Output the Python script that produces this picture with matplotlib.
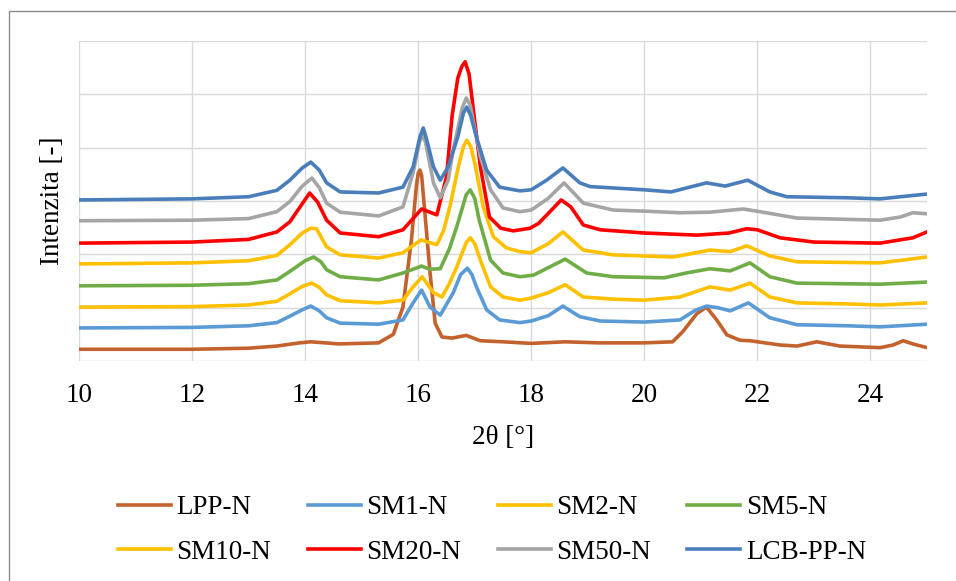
import matplotlib
matplotlib.use("Agg")
from matplotlib import pyplot as plt
from matplotlib.patches import Rectangle

# 2theta [deg] / intensity (offset curves, arbitrary units, grid step = 1)
lpp_x = [10, 12, 13, 13.5, 13.9, 14.1, 14.6, 15.3, 15.56, 15.73, 15.88, 15.97, 16.0, 16.03, 16.06, 16.1,
         16.21, 16.3, 16.42, 16.6, 16.85, 17.1, 17.5, 18.0, 18.6, 19.2, 20.0, 20.5, 20.68, 20.93, 21.1,
         21.28, 21.46, 21.69, 21.87, 22.4, 22.7, 23.05, 23.46, 24.17, 24.4, 24.58, 24.75, 25.0]
lpp_y = [0.22, 0.22, 0.24, 0.28, 0.34, 0.36, 0.32, 0.34, 0.50, 1.01, 2.27, 3.30, 3.52, 3.58, 3.48, 3.0,
         1.65, 0.71, 0.45, 0.43, 0.48, 0.38, 0.36, 0.33, 0.36, 0.34, 0.34, 0.36, 0.55, 0.89, 1.01,
         0.77, 0.49, 0.39, 0.38, 0.30, 0.28, 0.36, 0.28, 0.25, 0.30, 0.38, 0.32, 0.25]

sm1_x = [10, 12, 13, 13.5, 13.73, 13.95, 14.1, 14.25, 14.38, 14.62, 15.3, 15.73, 15.91, 16.06, 16.21,
         16.39, 16.62, 16.75, 16.87, 16.95, 17.03, 17.21, 17.44, 17.8, 18.0, 18.3, 18.56, 18.86, 19.22,
         20.0, 20.63, 20.9, 21.1, 21.3, 21.52, 21.84, 22.22, 22.7, 23.6, 24.17, 25.0]
sm1_y = [0.62, 0.63, 0.66, 0.72, 0.84, 0.96, 1.03, 0.94, 0.81, 0.71, 0.69, 0.77, 1.09, 1.33, 1.01,
         0.86, 1.28, 1.62, 1.74, 1.62, 1.39, 0.96, 0.77, 0.72, 0.75, 0.85, 1.03, 0.83, 0.75,
         0.73, 0.77, 0.95, 1.03, 1.00, 0.94, 1.09, 0.81, 0.68, 0.66, 0.64, 0.69]

sm2_x = [10, 12, 13, 13.5, 13.73, 13.95, 14.12, 14.25, 14.38, 14.62, 15.3, 15.73, 15.91, 16.07, 16.27,
         16.42, 16.55, 16.68, 16.85, 16.92, 17.0, 17.1, 17.28, 17.5, 17.8, 18.0, 18.3, 18.6, 18.92, 19.45,
         20.0, 20.63, 21.16, 21.52, 21.87, 22.22, 22.7, 23.6, 24.17, 25.0]
sm2_y = [1.01, 1.02, 1.05, 1.12, 1.26, 1.40, 1.46, 1.38, 1.24, 1.13, 1.09, 1.14, 1.39, 1.58, 1.28,
         1.20, 1.45, 1.76, 2.22, 2.31, 2.20, 1.89, 1.39, 1.20, 1.14, 1.18, 1.28, 1.43, 1.20, 1.16,
         1.14, 1.20, 1.39, 1.33, 1.46, 1.20, 1.09, 1.07, 1.05, 1.09]

sm5_x = [10, 12, 13, 13.5, 13.73, 14.0, 14.15, 14.28, 14.38, 14.62, 15.3, 15.73, 16.06, 16.2, 16.39,
         16.55, 16.68, 16.85, 16.92, 17.0, 17.08, 17.28, 17.5, 17.8, 18.04, 18.3, 18.6, 18.98, 19.45,
         20.35, 20.74, 21.16, 21.52, 21.87, 22.22, 22.7, 24.17, 25.0]
sm5_y = [1.41, 1.42, 1.45, 1.52, 1.68, 1.88, 1.95, 1.86, 1.71, 1.58, 1.52, 1.65, 1.78, 1.72, 1.73,
         2.10, 2.51, 3.12, 3.21, 3.05, 2.64, 1.89, 1.65, 1.58, 1.61, 1.75, 1.91, 1.65, 1.58,
         1.56, 1.65, 1.73, 1.69, 1.84, 1.58, 1.46, 1.44, 1.48]

sm10_x = [10, 12, 13, 13.5, 13.73, 13.95, 14.1, 14.2, 14.38, 14.62, 15.3, 15.73, 16.05, 16.33, 16.45,
          16.56, 16.71, 16.8, 16.86, 16.93, 17.0, 17.15, 17.33, 17.56, 17.8, 18.0, 18.3, 18.56, 18.92,
          19.45, 20.51, 21.16, 21.52, 21.81, 22.22, 22.7, 24.17, 25.0]
sm10_y = [1.82, 1.84, 1.88, 1.98, 2.18, 2.40, 2.49, 2.48, 2.14, 1.99, 1.93, 2.03, 2.27, 2.18, 2.45,
          2.89, 3.64, 4.02, 4.14, 4.02, 3.71, 2.89, 2.33, 2.12, 2.05, 2.03, 2.20, 2.42, 2.08,
          1.99, 1.95, 2.08, 2.05, 2.16, 1.97, 1.86, 1.84, 1.95]

sm20_x = [10, 12, 13, 13.5, 13.73, 13.95, 14.08, 14.22, 14.38, 14.62, 15.3, 15.73, 16.06, 16.33, 16.5,
          16.6, 16.7, 16.77, 16.83, 16.9, 16.97, 17.1, 17.26, 17.46, 17.68, 17.98, 18.13, 18.53, 18.7,
          18.92, 19.22, 20.0, 20.93, 21.5, 21.81, 22.0, 22.4, 23.0, 24.17, 24.75, 25.0]
sm20_y = [2.21, 2.23, 2.28, 2.42, 2.61, 2.95, 3.15, 2.98, 2.64, 2.40, 2.33, 2.46, 2.85, 2.74, 3.45,
          4.60, 5.30, 5.52, 5.61, 5.38, 4.76, 3.64, 2.70, 2.49, 2.44, 2.49, 2.58, 3.02, 2.89,
          2.55, 2.46, 2.40, 2.36, 2.40, 2.48, 2.46, 2.31, 2.23, 2.21, 2.31, 2.42]

sm50_x = [10, 12, 13, 13.5, 13.73, 13.95, 14.12, 14.25, 14.38, 14.62, 15.3, 15.73, 15.91, 16.02, 16.07,
          16.13, 16.27, 16.39, 16.53, 16.62, 16.78, 16.85, 16.92, 16.97, 17.1, 17.28, 17.5, 17.8, 18.0,
          18.3, 18.58, 18.92, 19.45, 20.0, 20.63, 21.16, 21.75, 22.1, 22.7, 24.17, 24.53, 24.75, 25.0]
sm50_y = [2.63, 2.64, 2.67, 2.80, 2.99, 3.28, 3.43, 3.25, 2.96, 2.79, 2.72, 2.89, 3.53, 4.10, 4.24,
          4.10, 3.34, 3.06, 3.39, 3.96, 4.75, 4.93, 4.80, 4.52, 3.83, 3.21, 2.87, 2.80, 2.83,
          3.05, 3.34, 2.96, 2.83, 2.81, 2.78, 2.79, 2.85, 2.79, 2.68, 2.64, 2.70, 2.78, 2.76]

lcb_x = [10, 12, 13, 13.5, 13.73, 13.95, 14.1, 14.25, 14.38, 14.62, 15.3, 15.73, 15.91, 16.03, 16.09,
         16.15, 16.27, 16.39, 16.53, 16.7, 16.8, 16.86, 16.93, 17.03, 17.21, 17.44, 17.8, 18.0, 18.27,
         18.56, 18.86, 19.04, 20.0, 20.47, 21.1, 21.43, 21.83, 22.22, 22.52, 23.6, 24.17, 24.53, 25.0]
lcb_y = [3.02, 3.04, 3.08, 3.20, 3.39, 3.62, 3.73, 3.58, 3.34, 3.17, 3.15, 3.26, 3.64, 4.20, 4.37,
         4.15, 3.64, 3.39, 3.64, 4.20, 4.65, 4.76, 4.60, 4.20, 3.58, 3.26, 3.19, 3.21, 3.39,
         3.62, 3.34, 3.27, 3.21, 3.17, 3.34, 3.28, 3.39, 3.17, 3.08, 3.06, 3.04, 3.08, 3.13]

series = [
    ("LPP-N", lpp_x, lpp_y, "#C4622D"),
    ("SM1-N", sm1_x, sm1_y, "#5B9BD5"),
    ("SM2-N", sm2_x, sm2_y, "#FFC000"),
    ("SM5-N", sm5_x, sm5_y, "#70AD47"),
    ("SM10-N", sm10_x, sm10_y, "#FFC000"),
    ("SM20-N", sm20_x, sm20_y, "#FF0000"),
    ("SM50-N", sm50_x, sm50_y, "#A5A5A5"),
    ("LCB-PP-N", lcb_x, lcb_y, "#4A7EBB"),
]

plt.rcParams["font.family"] = ["Liberation Serif", "DejaVu Serif"]
fs = 19.5

fig = plt.figure(figsize=(9.56, 5.81), dpi=100)
fig.patches.append(Rectangle((9 / 956, -0.05), 1.2, 1 - 11 / 581 + 0.05, transform=fig.transFigure,
                             fill=False, edgecolor="#8C8C8C", linewidth=1.0))
ax = fig.add_axes([79 / 956, 1 - 361 / 581, 848 / 956, 320 / 581])

handles = []
for name, xs, ys, col in series:
    h, = ax.plot(xs, ys, color=col, linewidth=2.6, label=name, solid_joinstyle="round")
    handles.append(h)

ax.set_xlim(10, 25)
ax.set_ylim(0, 6)
ax.set_xticks(range(10, 25, 2))
ax.set_yticks(range(0, 7))
ax.set_yticklabels([])
ax.grid(True, color="#D9D9D9", linewidth=1.0)
ax.set_axisbelow(True)
ax.tick_params(length=0, labelsize=fs, pad=16)
for s in ax.spines.values():
    s.set_visible(False)

ax.set_xlabel("2θ [°]", fontsize=fs, labelpad=12)
ax.set_ylabel("Intenzita [-]", fontsize=fs, labelpad=-6)

order = [0, 4, 1, 5, 2, 6, 3, 7]
fig.legend([handles[i] for i in order], [series[i][0] for i in order], ncol=4, frameon=False,
           fontsize=fs, loc="center", bbox_to_anchor=(492 / 956, 1 - 530 / 581),
           handlelength=1.96, handletextpad=0.2, columnspacing=1.35, labelspacing=0.72,
           borderpad=0)

fig.savefig("out.png", dpi=100)
plt.close(fig)
